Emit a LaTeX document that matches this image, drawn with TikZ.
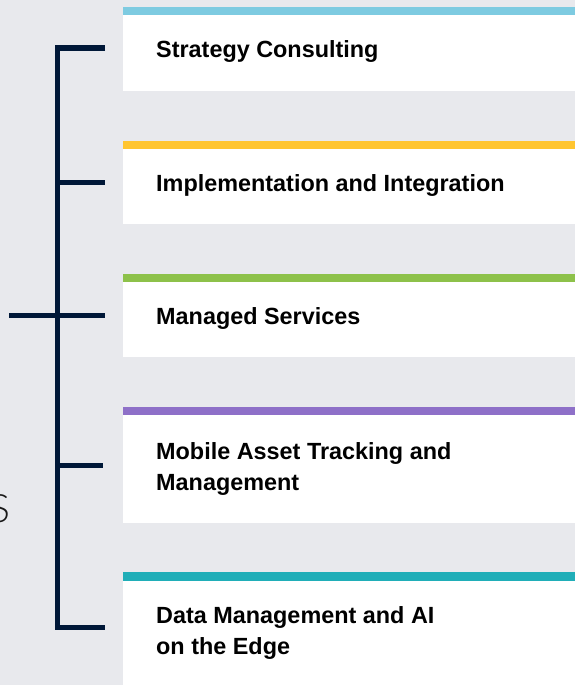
\documentclass[tikz,border=0pt]{standalone}
\usepackage{fontspec}
\setmainfont{Liberation Sans}
\newfontfamily\thinfont{Lato}[UprightFont={* Light}]
\definecolor{pagebg}{HTML}{E8E9ED}
\definecolor{navy}{HTML}{001838}
\definecolor{barblue}{HTML}{7ECBE1}
\definecolor{baryellow}{HTML}{FFC530}
\definecolor{bargreen}{HTML}{8DC14A}
\definecolor{barpurple}{HTML}{8E70C8}
\definecolor{barteal}{HTML}{20AEB8}
\tikzset{
  card/.style={fill=white},
  cardbar/.style={fill=#1},
  label/.style={anchor=base west, inner sep=0pt, text=black,
    font=\fontsize{23.4}{31.5}\selectfont\bfseries},
  spine/.style={draw=navy, line width=5.5pt, miter limit=10},
  tick/.style={draw=navy, line width=5pt},
}
\newcommand\twoline[2]{\begin{tabular}[t]{@{}l@{}}#1\\#2\end{tabular}}
\begin{document}
\begin{tikzpicture}[x=1pt,y=-1pt]
  % canvas
  \fill[pagebg] (0,0) rectangle (575,685);
  \useasboundingbox (0,0) rectangle (575,685);

  % cards with coloured top rules
  \fill[card] (123,15) rectangle (575,91);
  \fill[cardbar=barblue] (123,7) rectangle (575,15);
  \fill[card] (123,149) rectangle (575,224);
  \fill[cardbar=baryellow] (123,141) rectangle (575,149);
  \fill[card] (123,282) rectangle (575,357);
  \fill[cardbar=bargreen] (123,274) rectangle (575,282);
  \fill[card] (123,415) rectangle (575,523);
  \fill[cardbar=barpurple] (123,407) rectangle (575,415);
  \fill[card] (123,581) rectangle (575,685);
  \fill[cardbar=barteal] (123,572) rectangle (575,581);

  % card titles
  \node[label] (l1) at (156,57) {Strategy Consulting};
  \node[label] (l2) at (156,191) {Implementation and Integration};
  \node[label] (l3) at (156,324) {Managed Services};
  \node[label] (l4) at (156,459) {\twoline{Mobile Asset Tracking and}{Management}};
  \node[label] (l5) at (156,623) {\twoline{Data Management and AI}{on the Edge}};

  % bracket joints and tick ends
  \coordinate (j1) at (57.5,48);
  \coordinate (j2) at (57.5,182);
  \coordinate (j3) at (57.5,315);
  \coordinate (j4) at (57.5,465);
  \coordinate (j5) at (57.5,627.5);
  \coordinate (e1) at (105,48);
  \coordinate (e2) at (105,182);
  \coordinate (e3) at (105,315);
  \coordinate (e4) at (103,465);
  \coordinate (e5) at (105,627.5);
  \coordinate (s3) at (9,315);

  % bracket
  \draw[spine] (e1) -- (j1) -- (j5) -- (e5);
  \draw[tick] (j2) -- (e2);
  \draw[tick] (s3) -- (e3);
  \draw[tick] (j4) -- (e4);

  % letter at the left edge
  \node[anchor=east, inner sep=0pt, text=black!90,
        font=\thinfont\fontsize{39}{39}\selectfont] (side) at (11,509) {S};
\end{tikzpicture}
\end{document}
